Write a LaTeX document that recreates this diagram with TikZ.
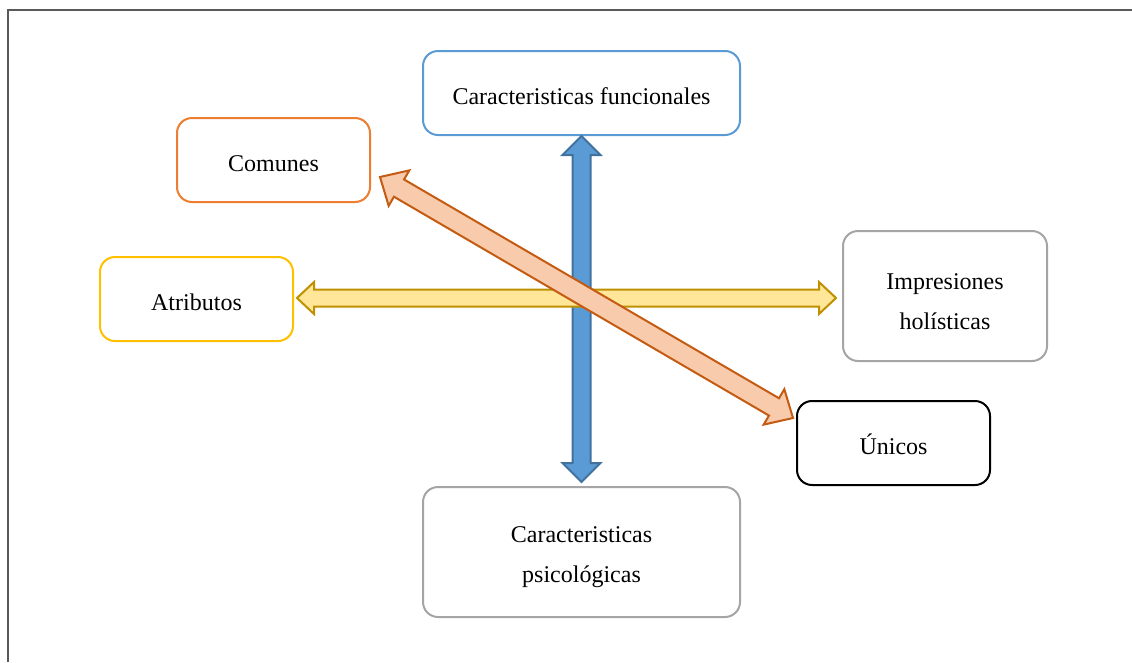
\documentclass[tikz,border=0pt]{standalone}
\usepackage{fontspec}
\setmainfont{Liberation Serif}
\usetikzlibrary{calc}

\definecolor{frameline}{HTML}{595959}
\definecolor{boxblue}{HTML}{5B9BD5}
\definecolor{boxorange}{HTML}{ED7D31}
\definecolor{boxgold}{HTML}{FFC000}
\definecolor{boxgray}{HTML}{A5A5A5}
\definecolor{blueedge}{HTML}{41719C}
\definecolor{goldfill}{HTML}{FFE699}
\definecolor{goldedge}{HTML}{BF9000}
\definecolor{peachfill}{HTML}{F8CBAD}
\definecolor{peachedge}{HTML}{C55A11}

% Block double arrow between two tip points:
% #1,#2 tips; #3 half shaft width; #4 half head width; #5 head length; #6 style
\newcommand\fatarrow[6]{%
  \draw[#6] (#1)
    -- ($(#1)!#5!(#2)!#4!90:(#2)$)
    -- ($(#1)!#5!(#2)!#3!90:(#2)$)
    -- ($(#2)!#5!(#1)!#3!-90:(#1)$)
    -- ($(#2)!#5!(#1)!#4!-90:(#1)$)
    -- (#2)
    -- ($(#2)!#5!(#1)!#4!90:(#1)$)
    -- ($(#2)!#5!(#1)!#3!90:(#1)$)
    -- ($(#1)!#5!(#2)!#3!-90:(#2)$)
    -- ($(#1)!#5!(#2)!#4!-90:(#2)$)
    -- cycle;}

\tikzset{
  card/.style={draw, line width=2pt, rounded corners=15pt, fill=white,
    inner sep=0pt},
  cardtext/.style={text=black, align=center, inner sep=0pt,
    font=\fontsize{24}{40}\selectfont},
  blockarrow/.style={line width=2pt, line join=miter},
}

\begin{document}
\begin{tikzpicture}[x=1pt, y=-1pt]
  \useasboundingbox (0,0) rectangle (1132,662);
  % page frame
  \draw[frameline, line width=2pt] (8,662) -- (8,10) -- (1132,10);

  % boxes
  \node[card, draw=boxblue, minimum width=317pt, minimum height=84pt]
    (func) at (581.5,93) {};
  \node[card, draw=boxorange, minimum width=193pt, minimum height=84pt]
    (comunes) at (273.5,160) {};
  \node[card, draw=boxgold, minimum width=193pt, minimum height=84pt]
    (atrib) at (196.5,299) {};
  \node[card, draw=boxgray, minimum width=204pt, minimum height=130pt]
    (holis) at (945,296) {};
  \node[card, draw=black, minimum width=193pt, minimum height=84pt]
    (unicos) at (893.5,443) {};
  \node[card, draw=boxgray, minimum width=317pt, minimum height=130pt]
    (psico) at (581.5,552) {};

  % box texts
  \node[cardtext] (func-t) at ([yshift=-3pt]func.center) {Caracteristicas funcionales};
  \node[cardtext] (comunes-t) at ([yshift=-3.5pt]comunes.center) {Comunes};
  \node[cardtext] (atrib-t) at ([yshift=-3pt]atrib.center) {Atributos};
  \node[cardtext] (holis-t) at ([yshift=-5.5pt]holis.center) {Impresiones\\holísticas};
  \node[cardtext] (unicos-t) at ([yshift=-1.5pt]unicos.center) {Únicos};
  \node[cardtext] (psico-t) at ([yshift=-5.5pt]psico.center) {Caracteristicas\\psicológicas};

  % arrow end points
  \coordinate (bTop) at (func.south);
  \coordinate (bBot) at ($(psico.north)+(0,-4)$);
  \coordinate (gL) at ($(atrib.east)+(3,-1)$);
  \coordinate (gR) at ($(holis.west)+(-6,2)$);
  \coordinate (oL) at (380,177);
  \coordinate (oR) at (793,418);

  \fatarrow{bTop}{bBot}{9pt}{19pt}{19pt}{blockarrow, draw=blueedge, fill=boxblue}
  \fatarrow{gL}{gR}{8.5pt}{16pt}{17pt}{blockarrow, draw=goldedge, fill=goldfill}
  \fatarrow{oL}{oR}{10pt}{20.5pt}{22pt}{blockarrow, draw=peachedge, fill=peachfill}
\end{tikzpicture}
\end{document}
